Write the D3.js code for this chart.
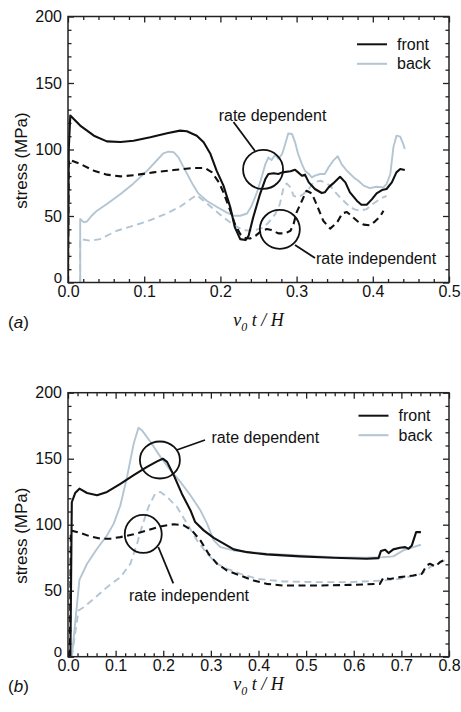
<!DOCTYPE html>
<html>
<head>
<meta charset="utf-8">
<script src="https://cdn.jsdelivr.net/npm/d3@7"></script>
<style>
  html, body { margin: 0; padding: 0; background: #fff; }
  svg { display: block; }
  text { font-family: "Liberation Sans", Arial, Helvetica, sans-serif; fill: #111; }
</style>
</head>
<body>
<svg id="chart" width="461" height="712"></svg>
<script>
// ---- Panel (a): stress vs. normalised time, x in [0, 0.5]
const aFrontRateDep = [
  [0.000, 0], [0.001, 100], [0.003, 125.5], [0.016, 118], [0.034, 110.4], [0.051, 106.1],
  [0.069, 105.6], [0.086, 106.6], [0.108, 109.2], [0.130, 112.2], [0.147, 114.2],
  [0.156, 113.7], [0.169, 110.4], [0.178, 105.4], [0.187, 96.6], [0.195, 84.1],
  [0.204, 72.8], [0.213, 56.5], [0.219, 41.4], [0.226, 32.6], [0.233, 31.9],
  [0.237, 35.1], [0.243, 48.9], [0.252, 66.5], [0.259, 77.8], [0.263, 81.6],
  [0.270, 82.1], [0.276, 81.6], [0.281, 82.8], [0.292, 83.6], [0.298, 84.8],
  [0.302, 82.8], [0.307, 80.3], [0.311, 81.1], [0.316, 75.3], [0.324, 70.3],
  [0.333, 67.3], [0.337, 67.8], [0.342, 71.5], [0.348, 74.5], [0.357, 79.5],
  [0.364, 75.3], [0.370, 67.8], [0.379, 61.5], [0.385, 58.5], [0.392, 58.5],
  [0.399, 62.7], [0.405, 67.0], [0.412, 69.5], [0.418, 70.3], [0.425, 75.3],
  [0.431, 82.8], [0.436, 85.3], [0.442, 84.6]
];
const aBackRateDep = [
  [0.016, 0], [0.016, 47.7], [0.021, 45.2], [0.025, 45.9], [0.031, 50.2], [0.038, 54],
  [0.051, 59], [0.069, 66.5], [0.086, 74.5], [0.104, 84.1], [0.117, 92.1],
  [0.125, 97.1], [0.132, 98.4], [0.139, 97.9], [0.145, 94.1], [0.154, 84.1],
  [0.163, 74.5], [0.171, 67], [0.182, 61.5], [0.195, 57], [0.208, 52.7],
  [0.217, 50.2], [0.226, 50.2], [0.235, 51.9], [0.241, 57.7], [0.248, 67.8],
  [0.254, 79], [0.259, 89], [0.263, 94], [0.267, 92], [0.272, 96], [0.276, 93],
  [0.281, 96.6], [0.285, 104], [0.289, 112], [0.294, 111.7], [0.298, 105.4],
  [0.302, 96.6], [0.307, 89], [0.311, 84], [0.316, 81.6], [0.320, 79],
  [0.324, 80.3], [0.331, 81.6], [0.337, 81.6], [0.342, 86.6], [0.348, 91.6],
  [0.354, 94.9], [0.359, 89], [0.366, 84], [0.375, 79], [0.381, 76.5],
  [0.388, 72.8], [0.396, 71], [0.405, 72], [0.414, 71.5], [0.418, 74],
  [0.423, 81.6], [0.427, 101.6], [0.431, 110.4], [0.436, 109.7], [0.440, 104],
  [0.442, 100.4]
];
const aFrontRateIndep = [
  [0.000, 0], [0.001, 92.5], [0.016, 89.1], [0.034, 84.1], [0.051, 81.1], [0.069, 79.8],
  [0.086, 80.6], [0.112, 82.8], [0.139, 84.6], [0.165, 86.1], [0.180, 86.1],
  [0.189, 82.8], [0.198, 75.3], [0.204, 67.8], [0.213, 54.0], [0.219, 43.9],
  [0.226, 36.4], [0.233, 33.4], [0.239, 33.1], [0.246, 35.1], [0.254, 38.9],
  [0.261, 40.2], [0.267, 39.4], [0.276, 36.9], [0.285, 36.9], [0.292, 38.9],
  [0.296, 43.9], [0.300, 52.7], [0.307, 61.5], [0.313, 69.0], [0.320, 67.0],
  [0.326, 59.0], [0.335, 46.4], [0.344, 40.5], [0.353, 45], [0.360, 52],
  [0.366, 53], [0.372, 50], [0.380, 46], [0.388, 43.5], [0.396, 43],
  [0.403, 46], [0.410, 50], [0.414, 54]
];
const aBackRateIndep = [
  [0.016, 0], [0.016, 32.6], [0.029, 31.4], [0.042, 32.6], [0.064, 38.9], [0.086, 42.7],
  [0.108, 46.9], [0.130, 52], [0.147, 57], [0.163, 63.5], [0.169, 65.7],
  [0.178, 61.5], [0.191, 55.2], [0.204, 49], [0.217, 43.4], [0.230, 39.4],
  [0.243, 38.9], [0.257, 41.4], [0.265, 46.4], [0.272, 51.4], [0.278, 59],
  [0.283, 71.5], [0.287, 74.5], [0.292, 71.5], [0.296, 65.2], [0.302, 64],
  [0.309, 66.5], [0.316, 70.3], [0.322, 75.3], [0.331, 76.5], [0.337, 75.3],
  [0.344, 72.8], [0.351, 67.8], [0.357, 64], [0.366, 59], [0.375, 55.2],
  [0.383, 54], [0.392, 55.2], [0.400, 59], [0.409, 62.7], [0.418, 65.2]
];

// ---- Panel (b): stress vs. normalised time, x in [0, 0.8]
const bFrontRateDep = [
  [0.005, 0], [0.008, 117], [0.015, 124], [0.024, 127.3], [0.040, 124], [0.061, 122.3],
  [0.082, 124.8], [0.110, 131], [0.138, 137.5], [0.166, 143.8], [0.187, 148],
  [0.199, 150], [0.208, 147.6], [0.222, 137.5], [0.239, 123.5], [0.257, 111],
  [0.267, 102], [0.285, 95.7], [0.306, 90], [0.327, 85.6], [0.348, 81.3],
  [0.376, 79.2], [0.417, 77.5], [0.487, 76], [0.557, 75], [0.627, 74.2],
  [0.652, 74.7], [0.657, 80], [0.666, 81], [0.673, 78.5], [0.683, 81.3],
  [0.697, 82.5], [0.708, 83], [0.715, 81.8], [0.722, 84.3], [0.731, 94.4],
  [0.741, 94.4]
];
const bBackRateDep = [
  [0.008, 0], [0.024, 58.2], [0.040, 70.4], [0.061, 81.8], [0.082, 91.9], [0.096, 100.8],
  [0.110, 114.7], [0.124, 136.2], [0.138, 161.5], [0.148, 173.4], [0.155, 171.6],
  [0.173, 162.8], [0.194, 151.4], [0.215, 141.3], [0.236, 132.4], [0.257, 122.3],
  [0.278, 110.9], [0.292, 100.8], [0.306, 88.1], [0.320, 83], [0.348, 80.5],
  [0.417, 78], [0.487, 76.7], [0.557, 75.4], [0.627, 75], [0.662, 75.4],
  [0.683, 76], [0.704, 80.5], [0.725, 83], [0.741, 84.8]
];
const bFrontRateIndep = [
  [0.004, 0], [0.006, 95.7], [0.026, 93.7], [0.047, 91.1], [0.068, 89.4], [0.089, 89.4],
  [0.110, 90.6], [0.138, 92.7], [0.166, 95.7], [0.194, 98.7], [0.222, 100.3],
  [0.243, 99.5], [0.260, 95.7], [0.278, 88.1], [0.295, 78], [0.313, 70.4],
  [0.334, 65.3], [0.362, 61.5], [0.390, 57.7], [0.417, 55.2], [0.452, 53.9],
  [0.522, 53.9], [0.592, 54.4], [0.655, 55.2], [0.662, 59.7], [0.676, 58.9],
  [0.697, 60.3], [0.725, 61.5], [0.743, 62.8], [0.753, 69.1], [0.760, 70.4],
  [0.771, 68.4], [0.781, 71.6], [0.795, 74.2]
];
const bBackRateIndep = [
  [0.008, 0], [0.022, 35], [0.033, 37.5], [0.054, 43.8], [0.082, 52.7], [0.110, 60.3],
  [0.131, 70.4], [0.145, 85.6], [0.155, 98.2], [0.169, 113.4], [0.183, 123.5],
  [0.194, 124.8], [0.208, 121], [0.229, 113.4], [0.250, 100.8], [0.271, 88.1],
  [0.292, 78], [0.313, 70.4], [0.334, 66.6], [0.362, 62.8], [0.397, 59],
  [0.452, 57], [0.522, 56.5], [0.592, 56.5], [0.662, 57.7], [0.697, 59],
  [0.743, 62.8], [0.760, 67.8], [0.774, 70.4], [0.799, 74.2]
];

// Axis ticks and labels
const yMajorTicks = [0, 50, 100, 150, 200];
const aXMajorTicks = [0, 0.1, 0.2, 0.3, 0.4, 0.5];
const bXMajorTicks = [0, 0.1, 0.2, 0.3, 0.4, 0.5, 0.6, 0.7, 0.8];
const seriesNames = ["front", "back"];
const annotationTexts = ["rate dependent", "rate independent"];
const panelTags = ["a", "b"];
const yAxisTitle = "stress (MPa)";

// Annotation circles: centre in data units
const aRateDepCircle = [0.256, 85];
const aRateIndepCircle = [0.278, 40];
const bRateDepCircle = [0.193, 149];
const bRateIndepCircle = [0.158, 93];

const DARK = "#111";
const LIGHT = "#b3c5d3";
const DASH = "7,4.5";

const svg = d3.select("#chart");

function drawPanel(p) {
  const x = d3.scaleLinear().domain([0, p.xMax]).range([p.left, p.right]);
  const y = d3.scaleLinear().domain([0, 200]).range([p.bottom, p.top]);
  const g = svg.append("g");

  const minorX = d3.range(0, p.xMax + 1e-9, 0.02).filter(v => Math.abs(v * 10 - Math.round(v * 10)) > 1e-6);
  const minorY = d3.range(0, 201, 10).filter(v => v % 50 !== 0);

  // inward ticks on all four sides
  const tickSets = [
    [d3.axisBottom(x), p.bottom, "x"],
    [d3.axisTop(x), p.top, "x"],
    [d3.axisLeft(y), p.left, "y"],
    [d3.axisRight(y), p.right, "y"]
  ];
  tickSets.forEach(([mk, pos, dim]) => {
    const tr = dim === "x" ? `translate(0,${pos})` : `translate(${pos},0)`;
    const majors = dim === "x" ? p.xTicks : yMajorTicks;
    const minors = dim === "x" ? minorX : minorY;
    const ax1 = g.append("g").attr("transform", tr)
      .call(mk.tickValues(majors).tickSize(-6).tickFormat(""));
    const ax2 = g.append("g").attr("transform", tr)
      .call(mk.tickValues(minors).tickSize(-3.5).tickFormat(""));
    [ax1, ax2].forEach(a => {
      a.select(".domain").remove();
      a.selectAll("line").attr("stroke", "#222").attr("stroke-width", 1.3);
    });
  });

  // tick labels
  const bx = g.append("g").attr("transform", `translate(0,${p.bottom})`)
    .call(d3.axisBottom(x).tickValues(p.xTicks).tickSize(0).tickPadding(0).tickFormat(d3.format(".1f")));
  bx.select(".domain").remove();
  bx.selectAll("text").attr("font-size", 16).attr("dy", null).attr("y", 14.5)
    .attr("font-family", "'Liberation Sans', Arial, sans-serif").attr("fill", "#111");

  const ly = g.append("g").attr("transform", `translate(${p.left},0)`)
    .call(d3.axisLeft(y).tickValues(yMajorTicks).tickSize(0).tickPadding(6).tickFormat(d3.format("d")));
  ly.select(".domain").remove();
  ly.selectAll("text").attr("font-size", 16)
    .attr("font-family", "'Liberation Sans', Arial, sans-serif").attr("fill", "#111");
  // the corner "0" sits just above the x label "0.0"
  ly.selectAll(".tick").filter(d => d === 0).select("text").attr("dy", "0em").attr("font-size", 15);

  // curves
  const line = d3.line().x(d => x(d[0])).y(d => y(d[1])).curve(d3.curveLinear);
  const curves = [
    [p.backRI, LIGHT, DASH],
    [p.backRD, LIGHT, null],
    [p.frontRI, DARK, DASH],
    [p.frontRD, DARK, null]
  ];
  const clipId = "clip-" + p.tag;
  g.append("clipPath").attr("id", clipId).append("rect")
    .attr("x", p.left).attr("y", p.top).attr("width", p.right - p.left).attr("height", p.bottom - p.top);
  const cg = g.append("g").attr("clip-path", `url(#${clipId})`);
  curves.forEach(([data, col, dash]) => {
    cg.append("path").datum(data).attr("d", line)
      .attr("fill", "none").attr("stroke", col).attr("stroke-width", col === DARK ? 2.1 : 1.9)
      .attr("stroke-linejoin", "round")
      .attr("stroke-dasharray", dash);
  });

  // frame
  g.append("rect").attr("x", p.left).attr("y", p.top)
    .attr("width", p.right - p.left).attr("height", p.bottom - p.top)
    .attr("fill", "none").attr("stroke", "#222").attr("stroke-width", 1.5);

  // legend
  seriesNames.forEach((name, i) => {
    const ly0 = p.legendY + i * 19.5;
    g.append("line").attr("x1", p.legendX).attr("x2", p.legendX + 30)
      .attr("y1", ly0).attr("y2", ly0)
      .attr("stroke", i === 0 ? DARK : LIGHT).attr("stroke-width", 2);
    g.append("text").attr("x", p.legendX + 40).attr("y", ly0).attr("dy", "0.35em")
      .attr("font-size", 16).text(name);
  });

  // annotations: circle + leader + text
  p.notes.forEach(n => {
    const cx = x(n.c[0]), cy = y(n.c[1]);
    g.append("ellipse").attr("cx", cx).attr("cy", cy).attr("rx", n.rx).attr("ry", n.ry)
      .attr("fill", "none").attr("stroke", DARK).attr("stroke-width", 1.8);
    g.append("line").attr("x1", n.l[0]).attr("y1", n.l[1]).attr("x2", n.l[2]).attr("y2", n.l[3])
      .attr("stroke", DARK).attr("stroke-width", 1.8);
    g.append("text").attr("x", n.t[0]).attr("y", n.t[1]).attr("dy", "0.35em")
      .attr("text-anchor", n.anchor).attr("font-size", 16).text(n.text);
  });

  // y-axis title
  const midY = (p.top + p.bottom) / 2 + 11;
  g.append("text").attr("transform", `translate(21,${midY}) rotate(-90)`)
    .attr("text-anchor", "middle").attr("dy", "0.35em").attr("font-size", 17).text(yAxisTitle);

  // x-axis title: v0 t / H
  const xt = g.append("text").attr("x", (p.left + p.right) / 2).attr("y", p.xTitleY)
    .attr("text-anchor", "middle").attr("font-size", 18)
    .style("font-family", "'Liberation Serif', 'Times New Roman', serif").style("font-style", "italic");
  xt.append("tspan").text("v");
  xt.append("tspan").attr("font-size", 12).attr("dy", 5).text("0");
  xt.append("tspan").attr("dy", -5).text(" t / H");

  // panel tag
  const tg = g.append("text").attr("x", 8).attr("y", p.tagY).attr("font-size", 17);
  tg.append("tspan").text("(");
  tg.append("tspan").style("font-style", "italic").text(p.tag);
  tg.append("tspan").text(")");
}

drawPanel({
  tag: panelTags[0], xMax: 0.5, xTicks: aXMajorTicks,
  left: 68, right: 449, top: 16.5, bottom: 282.5,
  frontRD: aFrontRateDep, backRD: aBackRateDep, frontRI: aFrontRateIndep, backRI: aBackRateIndep,
  legendX: 357, legendY: 44.3,
  xTitleY: 326, tagY: 328,
  notes: [
    { c: aRateDepCircle, rx: 20, ry: 19.5, l: [255, 151, 233.5, 122], t: [272.5, 115], anchor: "middle", text: annotationTexts[0] },
    { c: aRateIndepCircle, rx: 20, ry: 19.5, l: [295, 245, 315, 258], t: [316, 258.5], anchor: "start", text: annotationTexts[1] }
  ]
});

drawPanel({
  tag: panelTags[1], xMax: 0.8, xTicks: bXMajorTicks,
  left: 68, right: 449, top: 392.7, bottom: 656.7,
  frontRD: bFrontRateDep, backRD: bBackRateDep, frontRI: bFrontRateIndep, backRI: bBackRateIndep,
  legendX: 358.5, legendY: 415.7,
  xTitleY: 690, tagY: 692,
  notes: [
    { c: bRateDepCircle, rx: 20, ry: 18.5, l: [176.7, 450, 205, 440], t: [211.5, 437.5], anchor: "start", text: annotationTexts[0] },
    { c: bRateIndepCircle, rx: 18.5, ry: 19, l: [158.3, 547, 173.3, 583.3], t: [189, 595], anchor: "middle", text: annotationTexts[1] }
  ]
});
</script>
</body>
</html>
